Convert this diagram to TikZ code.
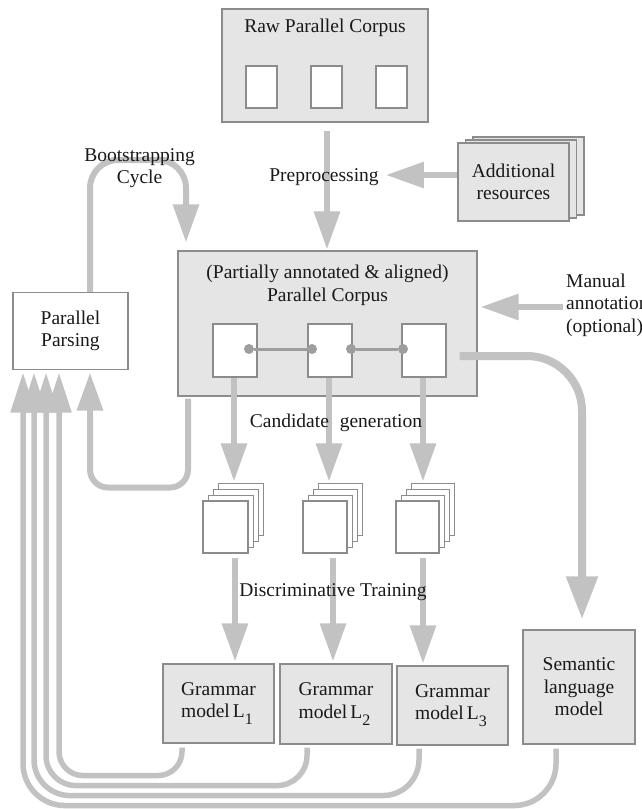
\documentclass[tikz,border=0pt]{standalone}
\usepackage{fontspec}
\setmainfont{Liberation Serif}
\usetikzlibrary{arrows.meta,calc}
\definecolor{arr}{gray}{0.76}
\definecolor{boxfill}{gray}{0.9}
\definecolor{boxline}{gray}{0.55}
\definecolor{dotc}{gray}{0.62}
\definecolor{ink}{gray}{0.1}
\pgfdeclarelayer{fg}
\pgfsetlayers{main,fg}
\newcommand{\subL}[1]{\hspace{3pt}L\raisebox{-7pt}{\fontsize{16}{16}\selectfont #1}}
\begin{document}
\begin{tikzpicture}[x=1pt,y=-1pt,
  font=\fontsize{19.5}{22.5}\selectfont, text=ink,
  gbox/.style={draw=boxline, fill=boxfill, line width=1.1pt, inner sep=0pt},
  wbox/.style={draw=boxline, fill=white, line width=1.1pt, inner sep=0pt},
  txt/.style={inner sep=0pt},
  flow/.style={draw=arr, line width=6pt, -{Triangle[length=38pt,width=25pt]}},
  bigflow/.style={draw=arr, line width=8pt, -{Triangle[length=43pt,width=30pt]}},
  fb/.style={draw=arr, line width=5.5pt, -{Triangle[length=40pt,width=24pt]}},
  dotn/.style={circle, fill=dotc, minimum size=10pt, inner sep=0pt},
  link/.style={draw=dotc, line width=3pt}
]
\useasboundingbox (0,0) rectangle (641,809);

% Raw parallel corpus
\node[gbox, minimum width=206pt, minimum height=113pt] (raw) at (325,65.5) {};
\foreach \x/\n in {261.5/r1, 326.5/r2, 391.5/r3}
  \node[wbox, minimum width=31pt, minimum height=42pt] (\n) at (\x,87) {};

% Additional resources (stack)
\foreach \k in {2,1}
  \node[gbox, minimum width=111pt, minimum height=78pt] (addb\k) at (513.5+7.5*\k,182-3*\k) {};
\node[gbox, minimum width=111pt, minimum height=78pt, align=center] (add) at (513.5,182) {Additional\\resources};

% Main corpus
\node[gbox, minimum width=299pt, minimum height=145pt] (main) at (327.5,323.5) {};
\foreach \x/\n in {235/m1, 330/m2, 424/m3}
  \node[wbox, minimum width=44pt, minimum height=53pt] (\n) at (\x,350.5) {};
\node[dotn] (d1) at (249,349) {};
\node[dotn] (d2) at (312,349) {};
\node[dotn] (d3) at (351,349) {};
\node[dotn] (d4) at (403,349) {};
\draw[link] (d1) -- (d2);
\draw[link] (d3) -- (d4);

% Parallel parsing
\node[wbox, minimum width=115pt, minimum height=77pt, align=center] (pp) at (70.5,331) {Parallel\\Parsing};

% Labels (on top of the arrows)
\begin{pgfonlayer}{fg}
\node[txt] (rawt) at (325,28) {Raw Parallel Corpus};
\node[txt, align=center] (maint) at (327.5,285.5) {(Partially annotated \& aligned)\\Parallel Corpus};
\node[txt] (prep) at (324,177) {Preprocessing};
\node[txt, align=center] (boot) at (139.5,168) {Bootstrapping\\Cycle};
\node[txt, align=left, anchor=west] (man) at (566,305) {Manual\\annotation\\(optional)};
\node[txt] (cand) at (336,423) {Candidate\hspace{6pt} generation};
\node[txt] (disc) at (333,592) {Discriminative Training};
\end{pgfonlayer}

% Candidate stacks
\foreach \x/\w/\n in {225.5/45/c1, 325/44/c2, 417.5/43/c3}{
  \foreach \k in {3,2,1}
    \node[wbox, minimum width=\w pt, minimum height=52pt] at (\x+5.3*\k,527-5.7*\k) {};
  \node[wbox, minimum width=\w pt, minimum height=52pt] (\n) at (\x,527) {};
}

% Models
\node[gbox, minimum width=111pt, minimum height=79pt, align=left] (g1) at (218.5,703.5) {Grammar\\model\subL{1}};
\node[gbox, minimum width=112pt, minimum height=80pt, align=left] (g2) at (336,704) {Grammar\\model\subL{2}};
\node[gbox, minimum width=111pt, minimum height=79pt, align=left] (g3) at (452.5,705.5) {Grammar\\model\subL{3}};
\node[gbox, minimum width=112pt, minimum height=114pt, align=center] (sem) at (579,687) {Semantic\\language\\model};

% Flows
\draw[flow] ([shift={(2,8)}]raw.south) -- ([shift={(-0.5,-1)}]main.north);
\draw[flow] ([shift={(0,-7)}]add.west) -- ([shift={(7,-2)}]prep.east);
\draw[flow] ([shift={(-3,2)}]man.west) -- ([shift={(3,-16.5)}]main.east);
\coordinate (bt) at ([shift={(0,-8)}]boot.center);
\draw[flow, rounded corners=28] ([shift={(19.5,0)}]pp.north) |- (bt) -| ([shift={(-141.5,-8)}]main.north);

% candidate generation
\draw[flow] ([shift={(-1,0)}]m1.south) -- ([shift={(8.5,-19)}]c1.north);
\draw[flow] ([shift={(-1,0)}]m2.south) -- ([shift={(4,-19)}]c2.north);
\draw[flow] ([shift={(-1,0)}]m3.south) -- ([shift={(5.5,-19)}]c3.north);

% discriminative training
\draw[flow] ([shift={(9.5,4)}]c1.south) -- ([shift={(16.5,-2)}]g1.north);
\draw[flow] ([shift={(8,4)}]c2.south) -- ([shift={(-3,-2)}]g2.north);
\draw[flow] ([shift={(5.5,4)}]c3.south) -- ([shift={(-29.5,-2)}]g3.north);

% return loop to parallel parsing
\draw[flow, rounded corners=18] ([shift={(-139.5,2)}]main.south) |- ([shift={(19.5,117.5)}]pp.south) -- ([shift={(19.5,2.5)}]pp.south);

% semantic arrow
\draw[bigflow, rounded corners=55] ([shift={(13,5.5)}]m3.east) -| ([shift={(3,-10)}]sem.north);

% feedback lines
\draw[fb, rounded corners=24] ([shift={(-36.5,4)}]g1.south) |- ([shift={(-11.5,405.5)}]pp.south) -- ([shift={(-11.5,2.5)}]pp.south);
\draw[fb, rounded corners=30] ([shift={(-29,3)}]g2.south) |- ([shift={(-24.5,415.5)}]pp.south) -- ([shift={(-24.5,2.5)}]pp.south);
\draw[fb, rounded corners=36] ([shift={(-33.5,3)}]g3.south) |- ([shift={(-36.5,425.5)}]pp.south) -- ([shift={(-36.5,2.5)}]pp.south);
\draw[fb, rounded corners=42] ([shift={(-23,4)}]sem.south) |- ([shift={(-47.5,435.5)}]pp.south) -- ([shift={(-47.5,2.5)}]pp.south);
\end{tikzpicture}
\end{document}
